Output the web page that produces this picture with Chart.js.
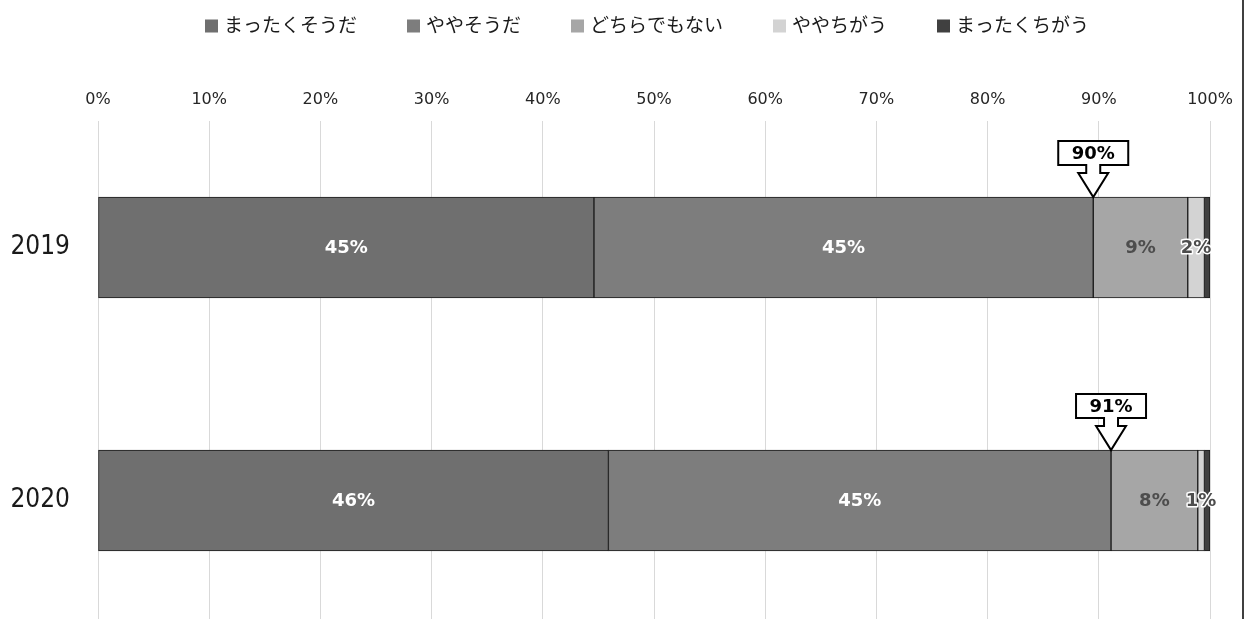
<!DOCTYPE html>
<html lang="ja">
<head>
<meta charset="utf-8">
<title>2019・2020 回答割合</title>
<script src="https://cdn.jsdelivr.net/npm/chart.js@4/dist/chart.umd.min.js"></script>
<style>
  html, body { margin: 0; padding: 0; background: #fff; overflow: hidden; }
  #wrap { width: 1246px; height: 627px; }
</style>
</head>
<body>
<div id="wrap"><canvas id="chart" width="1246" height="627"></canvas></div>
<script>
// categories and series (percent of answers)
const years = ['2019', '2020'];
const seriesNames = ['まったくそうだ', 'ややそうだ', 'どちらでもない', 'ややちがう', 'まったくちがう'];
const veryYes = [44.6, 45.9];
const ratherYes = [44.9, 45.2];
const neither = [8.5, 7.8];
const ratherNo = [1.5, 0.6];
const veryNo = [0.5, 0.5];
const xTickStep = 10;

const seriesValues = [veryYes, ratherYes, neither, ratherNo, veryNo];
const seriesColors = ['#6f6f6f', '#7d7d7d', '#a6a6a6', '#d3d3d3', '#404040'];
// value label look per series (null = no label)
const labelStyles = [
    { color: '#ffffff' },
    { color: '#ffffff' },
    { color: '#4d4d4d' },
    { color: '#4d4d4d', outline: '#ffffff' },
    null
];

const fmt = v => Math.round(v) + '%';

// labels in the middle of each segment
const segmentLabels = {
    id: 'segmentLabels',
    afterDatasetsDraw(chart) {
        const ctx = chart.ctx;
        ctx.save();
        ctx.font = 'bold 18px "DejaVu Sans"';
        ctx.textAlign = 'center';
        ctx.textBaseline = 'middle';
        chart.data.datasets.forEach((ds, di) => {
            const style = labelStyles[di];
            if (!style) return;
            chart.getDatasetMeta(di).data.forEach((bar, i) => {
                const x = (bar.x + bar.base) / 2;
                const text = fmt(ds.data[i]);
                if (style.outline) {
                    ctx.lineWidth = 3;
                    ctx.lineJoin = 'round';
                    ctx.strokeStyle = style.outline;
                    ctx.strokeText(text, x, bar.y + 1);
                }
                ctx.fillStyle = style.color;
                ctx.fillText(text, x, bar.y + 1);
            });
        });
        ctx.restore();
    }
};

// arrow callout pointing at the end of the "そうだ" share
const totalCallout = {
    id: 'totalCallout',
    afterDatasetsDraw(chart) {
        const ctx = chart.ctx;
        const meta = chart.getDatasetMeta(1);
        ctx.save();
        meta.data.forEach((bar, i) => {
            const tx = bar.x;
            const ty = bar.y - bar.height / 2;
            const total = Math.round(veryYes[i] + ratherYes[i]) + '%';
            ctx.beginPath();
            ctx.moveTo(tx - 35, ty - 56);
            ctx.lineTo(tx + 35, ty - 56);
            ctx.lineTo(tx + 35, ty - 32);
            ctx.lineTo(tx + 7, ty - 32);
            ctx.lineTo(tx + 7, ty - 24);
            ctx.lineTo(tx + 15, ty - 24);
            ctx.lineTo(tx, ty);
            ctx.lineTo(tx - 15, ty - 24);
            ctx.lineTo(tx - 7, ty - 24);
            ctx.lineTo(tx - 7, ty - 32);
            ctx.lineTo(tx - 35, ty - 32);
            ctx.closePath();
            ctx.fillStyle = '#fff';
            ctx.fill();
            ctx.lineWidth = 2;
            ctx.strokeStyle = '#000';
            ctx.stroke();
            ctx.fillStyle = '#000';
            ctx.font = 'bold 18px "DejaVu Sans"';
            ctx.textAlign = 'center';
            ctx.textBaseline = 'middle';
            ctx.fillText(total, tx, ty - 43);
        });
        ctx.restore();
    }
};

// legend row on top and the frame edge on the right
const topLegend = {
    id: 'topLegend',
    afterDraw(chart) {
        const ctx = chart.ctx;
        const box = 13, gap = 6, spacing = 50;
        ctx.save();
        ctx.font = '19px "Noto Sans CJK JP"';
        ctx.textBaseline = 'middle';
        const widths = seriesNames.map(n => box + gap + ctx.measureText(n).width);
        const total = widths.reduce((a, b) => a + b, 0) + spacing * (widths.length - 1);
        const area = chart.chartArea;
        let x = (area.left + area.right) / 2 - 7 - total / 2;
        const y = 25;
        seriesNames.forEach((name, i) => {
            ctx.fillStyle = seriesColors[i];
            ctx.fillRect(x, y - box / 2 + 1, box, box);
            ctx.fillStyle = '#1a1a1a';
            ctx.fillText(name, x + box + gap, y);
            x += widths[i] + spacing;
        });
        ctx.strokeStyle = '#000';
        ctx.lineWidth = 1.5;
        ctx.beginPath();
        ctx.moveTo(chart.width - 3, 0);
        ctx.lineTo(chart.width - 3, chart.height);
        ctx.stroke();
        ctx.restore();
    }
};

new Chart(document.getElementById('chart'), {
    type: 'bar',
    data: {
        labels: years,
        datasets: seriesNames.map((name, i) => ({
            label: name,
            data: seriesValues[i],
            backgroundColor: seriesColors[i],
            borderColor: '#1a1a1a',
            borderWidth: 1,
            borderSkipped: false,
            barThickness: 101
        }))
    },
    options: {
        indexAxis: 'y',
        responsive: false,
        animation: false,
        devicePixelRatio: 1,
        layout: { padding: { top: 90, left: 12, right: 36, bottom: 0 } },
        plugins: {
            legend: { display: false },
            tooltip: { enabled: false }
        },
        scales: {
            x: {
                position: 'top',
                stacked: true,
                min: 0,
                max: 100,
                afterFit: s => { s.height = 31; },
                ticks: {
                    stepSize: xTickStep,
                    callback: v => v + '%',
                    font: { family: 'DejaVu Sans', size: 16 },
                    color: '#262626',
                    padding: 12
                },
                grid: { color: '#d9d9d9', drawTicks: false },
                border: { display: false }
            },
            y: {
                stacked: true,
                afterFit: s => { s.width = 86; s.paddingTop = 0; s.paddingBottom = 0; },
                ticks: {
                    font: { family: '"DejaVu Sans Condensed", "DejaVu Sans"', size: 26 },
                    color: '#1a1a1a',
                    padding: 28
                },
                grid: { display: false, drawTicks: false },
                border: { display: false }
            }
        }
    },
    plugins: [segmentLabels, totalCallout, topLegend]
});
</script>
</body>
</html>
